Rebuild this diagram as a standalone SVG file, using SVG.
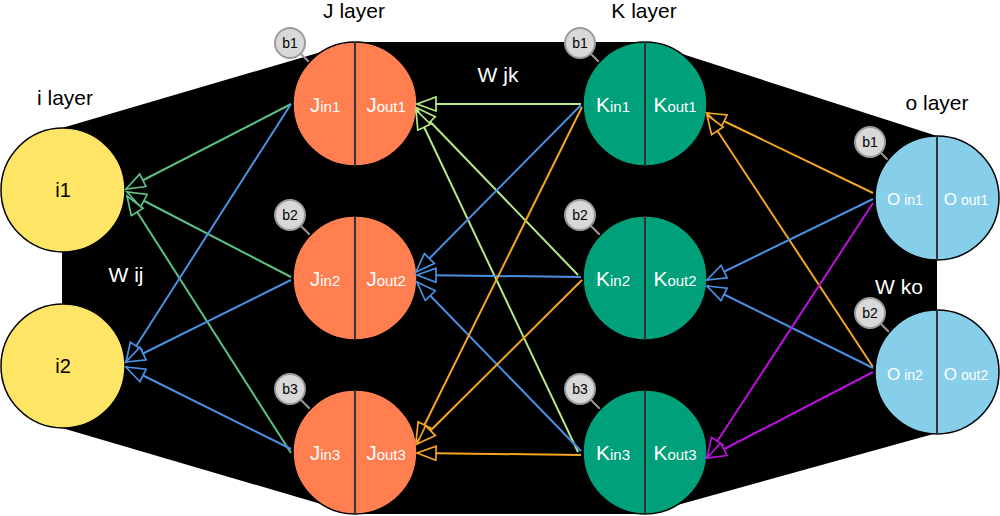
<svg xmlns="http://www.w3.org/2000/svg" width="1000" height="516" viewBox="0 0 1000 516">
<style>
text{font-family:"Liberation Sans",Arial,sans-serif}
.lbl{font-size:21px;fill:#000;text-anchor:middle}
.w{font-size:21px;fill:#fff;text-anchor:middle}
.big{stroke:#000;stroke-width:1.5}
.i{fill:#ffe566}
.j{fill:#ff7f50}
.k{fill:#00a07a}
.o{fill:#87ceeb}
.div{stroke:#333;stroke-width:2}
.t{fill:#fff;text-anchor:middle;font-size:21px}
.s{font-size:15px}
.ti{fill:#000;text-anchor:middle;font-size:20px}
.bias circle{fill:#d8d8d8;stroke:#9b9b9b;stroke-width:2}
.bias line{stroke:#9b9b9b;stroke-width:2}
.bias text{font-size:14px;fill:#000;text-anchor:middle}
#connectors line{stroke-width:2;fill:none}
.cg{stroke:#5cc184;marker-end:url(#ag)}
.cb{stroke:#4a90e2;marker-end:url(#ab)}
.cl{stroke:#b8e986;marker-end:url(#al)}
.co{stroke:#f5a623;marker-end:url(#ao)}
.cp{stroke:#bd10e0;marker-end:url(#ap)}
</style>
<defs>
<marker id="ag" markerUnits="userSpaceOnUse" markerWidth="24" markerHeight="18" refX="20" refY="8" orient="auto"><path d="M1,1 L20,8 L1,15 Z" fill="#000" stroke="#5cc184" stroke-width="1.7"/></marker>
<marker id="ab" markerUnits="userSpaceOnUse" markerWidth="24" markerHeight="18" refX="20" refY="8" orient="auto"><path d="M1,1 L20,8 L1,15 Z" fill="#000" stroke="#4a90e2" stroke-width="1.7"/></marker>
<marker id="al" markerUnits="userSpaceOnUse" markerWidth="24" markerHeight="18" refX="20" refY="8" orient="auto"><path d="M1,1 L20,8 L1,15 Z" fill="#000" stroke="#b8e986" stroke-width="1.7"/></marker>
<marker id="ao" markerUnits="userSpaceOnUse" markerWidth="24" markerHeight="18" refX="20" refY="8" orient="auto"><path d="M1,1 L20,8 L1,15 Z" fill="#000" stroke="#f5a623" stroke-width="1.7"/></marker>
<marker id="ap" markerUnits="userSpaceOnUse" markerWidth="24" markerHeight="18" refX="20" refY="8" orient="auto"><path d="M1,1 L20,8 L1,15 Z" fill="#000" stroke="#bd10e0" stroke-width="1.7"/></marker>
</defs>
<rect width="1000" height="516" fill="#fff"/>
<polygon id="background" points="62,128 355,42 645,42 937,136 937,433 645,514 355,514 62,428" fill="#000"/>
<g id="labels">
<text class="lbl" x="65" y="105">i layer</text>
<text class="lbl" x="354" y="18">J layer</text>
<text class="lbl" x="644" y="18">K layer</text>
<text class="lbl" x="937" y="110">o layer</text>
<text class="w" x="126" y="282">W ij</text>
<text class="w" x="498" y="82">W jk</text>
<text class="w" x="899" y="294">W ko</text>
</g>
<g id="biases">
<g id="bJ1" class="bias"><line x1="300" y1="53" x2="312" y2="65"/><circle cx="290" cy="43" r="15"/><text x="290" y="48">b1</text></g>
<g id="bJ2" class="bias"><line x1="300" y1="225" x2="312" y2="237"/><circle cx="290" cy="215" r="15"/><text x="290" y="220">b2</text></g>
<g id="bJ3" class="bias"><line x1="300" y1="399" x2="312" y2="411"/><circle cx="290" cy="389" r="15"/><text x="290" y="394">b3</text></g>
<g id="bK1" class="bias"><line x1="590" y1="53" x2="602" y2="65"/><circle cx="580" cy="43" r="15"/><text x="580" y="48">b1</text></g>
<g id="bK2" class="bias"><line x1="590" y1="225" x2="602" y2="237"/><circle cx="580" cy="215" r="15"/><text x="580" y="220">b2</text></g>
<g id="bK3" class="bias"><line x1="590" y1="399" x2="602" y2="411"/><circle cx="580" cy="389" r="15"/><text x="580" y="394">b3</text></g>
<g id="bO1" class="bias"><line x1="880" y1="152" x2="892" y2="164"/><circle cx="870" cy="142" r="15"/><text x="870" y="147">b1</text></g>
<g id="bO2" class="bias"><line x1="880" y1="323" x2="892" y2="335"/><circle cx="870" cy="313" r="15"/><text x="870" y="318">b2</text></g>
</g>
<g id="i1"><circle class="big i" cx="63" cy="190" r="62"/><text class="ti" x="63" y="197">i1</text></g>
<g id="i2"><circle class="big i" cx="63" cy="366" r="62"/><text class="ti" x="63" y="373">i2</text></g>
<g id="J1"><circle class="big j" cx="355" cy="104" r="62"/><line class="div" x1="355" y1="42" x2="355" y2="166"/><text class="t" x="325" y="112">J<tspan class="s">in1</tspan></text><text class="t" x="386" y="112">J<tspan class="s">out1</tspan></text></g>
<g id="J2"><circle class="big j" cx="355" cy="278" r="62"/><line class="div" x1="355" y1="216" x2="355" y2="340"/><text class="t" x="325" y="286">J<tspan class="s">in2</tspan></text><text class="t" x="386" y="286">J<tspan class="s">out2</tspan></text></g>
<g id="J3"><circle class="big j" cx="355" cy="452" r="62"/><line class="div" x1="355" y1="390" x2="355" y2="514"/><text class="t" x="325" y="460">J<tspan class="s">in3</tspan></text><text class="t" x="386" y="460">J<tspan class="s">out3</tspan></text></g>
<g id="K1"><circle class="big k" cx="645" cy="104" r="62"/><line class="div" x1="645" y1="42" x2="645" y2="166"/><text class="t" x="613" y="112">K<tspan class="s">in1</tspan></text><text class="t" x="675" y="112">K<tspan class="s">out1</tspan></text></g>
<g id="K2"><circle class="big k" cx="645" cy="278" r="62"/><line class="div" x1="645" y1="216" x2="645" y2="340"/><text class="t" x="613" y="286">K<tspan class="s">in2</tspan></text><text class="t" x="675" y="286">K<tspan class="s">out2</tspan></text></g>
<g id="K3"><circle class="big k" cx="645" cy="452" r="62"/><line class="div" x1="645" y1="390" x2="645" y2="514"/><text class="t" x="613" y="460">K<tspan class="s">in3</tspan></text><text class="t" x="675" y="460">K<tspan class="s">out3</tspan></text></g>
<g id="O1"><circle class="big o" cx="937" cy="198" r="62"/><line class="div" x1="937" y1="136" x2="937" y2="260"/><text class="t" x="905" y="205" style="font-size:17px">O<tspan style="font-size:14px"> in1</tspan></text><text class="t" x="966" y="205" style="font-size:17px">O<tspan style="font-size:14px"> out1</tspan></text></g>
<g id="O2"><circle class="big o" cx="937" cy="372" r="62"/><line class="div" x1="937" y1="310" x2="937" y2="434"/><text class="t" x="905" y="380" style="font-size:17px">O<tspan style="font-size:14px"> in2</tspan></text><text class="t" x="966" y="380" style="font-size:17px">O<tspan style="font-size:14px"> out2</tspan></text></g>
<g id="connectors">
<line class="cg" x1="291" y1="104" x2="126" y2="189"/>
<line class="cg" x1="291" y1="277" x2="127" y2="192"/>
<line class="cg" x1="291" y1="453" x2="127" y2="196"/>
<line class="cb" x1="291" y1="104" x2="126" y2="362"/>
<line class="cb" x1="291" y1="280" x2="126" y2="362"/>
<line class="cb" x1="291" y1="449" x2="126" y2="367"/>
<line class="cl" x1="581" y1="104" x2="417" y2="104"/>
<line class="cl" x1="578" y1="275" x2="417" y2="108"/>
<line class="cl" x1="578" y1="452" x2="416" y2="110"/>
<line class="cb" x1="581" y1="105" x2="416" y2="272"/>
<line class="cb" x1="581" y1="277" x2="417" y2="275"/>
<line class="cb" x1="581" y1="451" x2="417" y2="282"/>
<line class="co" x1="582" y1="107" x2="416" y2="442"/>
<line class="co" x1="582" y1="280" x2="417" y2="444"/>
<line class="co" x1="581" y1="455" x2="417" y2="453"/>
<line class="co" x1="873" y1="193" x2="707" y2="113"/>
<line class="co" x1="873" y1="367" x2="707" y2="115"/>
<line class="cb" x1="873" y1="199" x2="707" y2="280"/>
<line class="cb" x1="873" y1="368" x2="707" y2="286"/>
<line class="cp" x1="873" y1="203" x2="707" y2="457"/>
<line class="cp" x1="873" y1="372" x2="707" y2="458"/>
</g>
</svg>
